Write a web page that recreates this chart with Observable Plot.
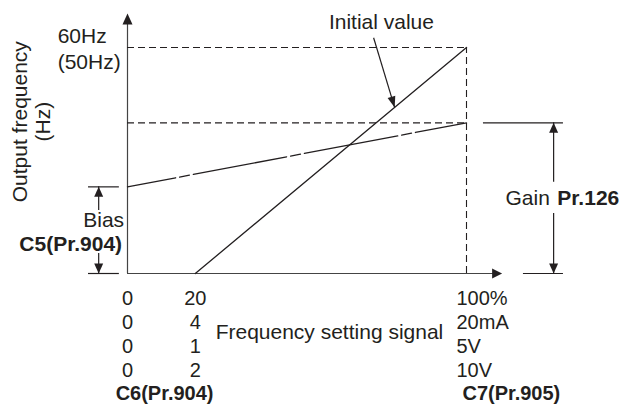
<!DOCTYPE html>
<html><head><meta charset="utf-8">
<script src="https://cdn.jsdelivr.net/npm/d3@7"></script>
<script src="https://cdn.jsdelivr.net/npm/@observablehq/plot@0.6"></script>
<style>body{margin:0;background:#fff} svg{display:block}</style>
</head><body><div id="chart"></div>
<script>
// ---- data ----
const freqMax = 60;          // 60Hz (50Hz) at 100%
const gainValue = 40;        // gain level (Pr.126)
const biasValue = 23;        // bias level (C5)
const initialStart = 20;     // initial line starts at 20%
const signalMax = 100;       // 100%
const axisXEnd = 110.5;
const axisYEnd = 69;
const tickPositions = [0, 20, 100];
const pctTicks = ["0", "20", "100%"];
const mATicks = ["0", "4", "20mA"];
const v5Ticks = ["0", "1", "5V"];
const v10Ticks = ["0", "2", "10V"];
const tickRows = [pctTicks, mATicks, v5Ticks, v10Ticks];
const initialLine = [{x: initialStart, y: 0}, {x: signalMax, y: freqMax}];
const gainLine = [{x: 0, y: biasValue}, {x: signalMax, y: gainValue}];
const leaderFrom = {x: 72.6, y: 62.6};
const leaderX = 78.8;
const biasArrowX = -8.5, gainArrowX = 125.7;

// ---- styling ----
const ink = "#231f20";
const fs = 21;
const fsTick = 20;
const sx = d3.scaleLinear([0, 100], [127, 466]);
const sy = d3.scaleLinear([0, 60], [273, 47]);

function head(angleDeg, len, w) {
  const a = angleDeg * Math.PI / 180, c = Math.cos(a), s = Math.sin(a);
  return {draw(ctx) {
    ctx.moveTo(0, 0);
    ctx.lineTo(-len * c + (w / 2) * s, -len * s - (w / 2) * c);
    ctx.lineTo(-len * c - (w / 2) * s, -len * s + (w / 2) * c);
    ctx.closePath();
  }};
}
const leaderTo = {x: leaderX, y: (leaderX - initialStart) * freqMax / (signalMax - initialStart)};
const leaderAngle = Math.atan2(sy(leaderTo.y) - sy(leaderFrom.y), sx(leaderTo.x) - sx(leaderFrom.x)) * 180 / Math.PI;

const marks = [
  // axes
  Plot.ruleX([0], {y1: 0, y2: axisYEnd - 2, stroke: "#444", strokeWidth: 1.2}),
  Plot.ruleY([0], {x1: 0, x2: axisXEnd - 2, stroke: "#444", strokeWidth: 1.2}),
  Plot.dot([{x: 0, y: axisYEnd}], {x: "x", y: "y", symbol: head(-90, 11, 10), fill: ink, stroke: null}),
  Plot.dot([{x: axisXEnd, y: 0}], {x: "x", y: "y", symbol: head(0, 10, 10), fill: ink, stroke: null}),
  // dashed guides
  Plot.ruleY([freqMax], {x1: 0, x2: signalMax, stroke: ink, strokeDasharray: "7,4", strokeWidth: 1.1}),
  Plot.ruleY([gainValue], {x1: 0, x2: signalMax, stroke: ink, strokeDasharray: "7,4", strokeWidth: 1.1}),
  Plot.ruleX([signalMax], {y1: 0, y2: freqMax, stroke: ink, strokeDasharray: "7,4", strokeWidth: 1.1}),
  // lines
  Plot.line(initialLine, {x: "x", y: "y", stroke: ink, strokeWidth: 1.3}),
  Plot.line(gainLine, {x: "x", y: "y", stroke: ink, strokeWidth: 1.3, strokeDasharray: "95,4,10,4", strokeDashoffset: 46}),
  // leader for Initial value
  Plot.link([{x1: leaderFrom.x, y1: leaderFrom.y, x2: leaderTo.x, y2: leaderTo.y}], {x1: "x1", y1: "y1", x2: "x2", y2: "y2", stroke: ink, strokeWidth: 1.2}),
  Plot.dot([leaderTo], {x: "x", y: "y", symbol: head(leaderAngle, 11, 8), fill: ink, stroke: null}),
  Plot.text(["Initial value"], {x: 74.9, y: 66.6, text: d => d, fontSize: fs, fill: ink}),
  // bias dimension
  Plot.ruleY([biasValue, 0], {x1: -11.5, x2: -2.4, stroke: ink, strokeWidth: 1.2}),
  Plot.ruleX([biasArrowX], {y1: biasValue, y2: 16.7, stroke: ink, strokeWidth: 1.2}),
  Plot.ruleX([biasArrowX], {y1: 5.3, y2: 0, stroke: ink, strokeWidth: 1.2}),
  Plot.dot([{x: biasArrowX, y: biasValue}], {x: "x", y: "y", symbol: head(-90, 10, 9), fill: ink, stroke: null}),
  Plot.dot([{x: biasArrowX, y: 0}], {x: "x", y: "y", symbol: head(90, 10, 9), fill: ink, stroke: null}),
  Plot.text(["Bias"], {x: -1, y: 14.1, text: d => d, textAnchor: "end", fontSize: fs, fill: ink}),
  Plot.text(["C5(Pr.904)"], {x: -1.6, y: 7.7, text: d => d, textAnchor: "end", fontSize: fs, fontWeight: "bold", fill: ink}),
  // gain dimension
  Plot.ruleY([gainValue], {x1: 105, x2: 128.6, stroke: ink, strokeWidth: 1.2}),
  Plot.ruleY([0], {x1: 116.8, x2: 128.6, stroke: ink, strokeWidth: 1.2}),
  Plot.ruleX([gainArrowX], {y1: gainValue, y2: 24.2, stroke: ink, strokeWidth: 1.2}),
  Plot.ruleX([gainArrowX], {y1: 15.9, y2: 0, stroke: ink, strokeWidth: 1.2}),
  Plot.dot([{x: gainArrowX, y: gainValue}], {x: "x", y: "y", symbol: head(-90, 10, 9), fill: ink, stroke: null}),
  Plot.dot([{x: gainArrowX, y: 0}], {x: "x", y: "y", symbol: head(90, 10, 9), fill: ink, stroke: null}),
  Plot.text(["Gain"], {x: 111.5, y: gainValue / 2, text: d => d, textAnchor: "start", fontSize: fs, fill: ink}),
  Plot.text(["Pr.126"], {x: 126.8, y: gainValue / 2, text: d => d, textAnchor: "start", fontSize: fs, fontWeight: "bold", fill: ink}),
  // y labels
  Plot.text(["60Hz"], {x: -20.6, y: freqMax, dy: -11, text: d => d, textAnchor: "start", fontSize: fs, fill: ink}),
  Plot.text(["(50Hz)"], {x: -20.6, y: freqMax, dy: 15, text: d => d, textAnchor: "start", fontSize: fs, fill: ink}),
  Plot.text(["Output frequency"], {x: -31.6, y: 40.3, text: d => d, rotate: -90, fontSize: fs, fill: ink}),
  Plot.text(["(Hz)"], {x: -24.8, y: 40.3, text: d => d, rotate: -90, fontSize: fs, fill: ink}),
  // x labels
  Plot.text(["Frequency setting signal"], {x: 26, y: 0, dy: 59, text: d => d, textAnchor: "start", fontSize: fs, fill: ink}),
  Plot.text(["C6(Pr.904)"], {x: -3.5, y: 0, dy: 120, text: d => d, textAnchor: "start", fontSize: fsTick, fontWeight: "bold", fill: ink}),
  Plot.text(["C7(Pr.905)"], {x: 98.8, y: 0, dy: 120, text: d => d, textAnchor: "start", fontSize: fsTick, fontWeight: "bold", fill: ink})
];
tickRows.forEach((row, r) => {
  marks.push(Plot.text([0, 1], {x: i => tickPositions[i], y: 0, dy: 24 * (r + 1) + 1, text: i => row[i], textAnchor: "middle", fontSize: fsTick, fill: ink}));
  marks.push(Plot.text([2], {x: i => tickPositions[i], y: 0, dy: 24 * (r + 1) + 1, dx: -10, text: i => row[i], textAnchor: "start", fontSize: fsTick, fill: ink}));
});

const chart = Plot.plot({
  width: 619, height: 405, margin: 0,
  style: {fontFamily: "'Liberation Sans', Arial, sans-serif", background: "#fff"},
  x: {domain: [0, 100], range: [127, 466], axis: null},
  y: {domain: [0, 60], range: [273, 47], axis: null},
  marks
});
document.getElementById("chart").appendChild(chart);
</script>
</body></html>
